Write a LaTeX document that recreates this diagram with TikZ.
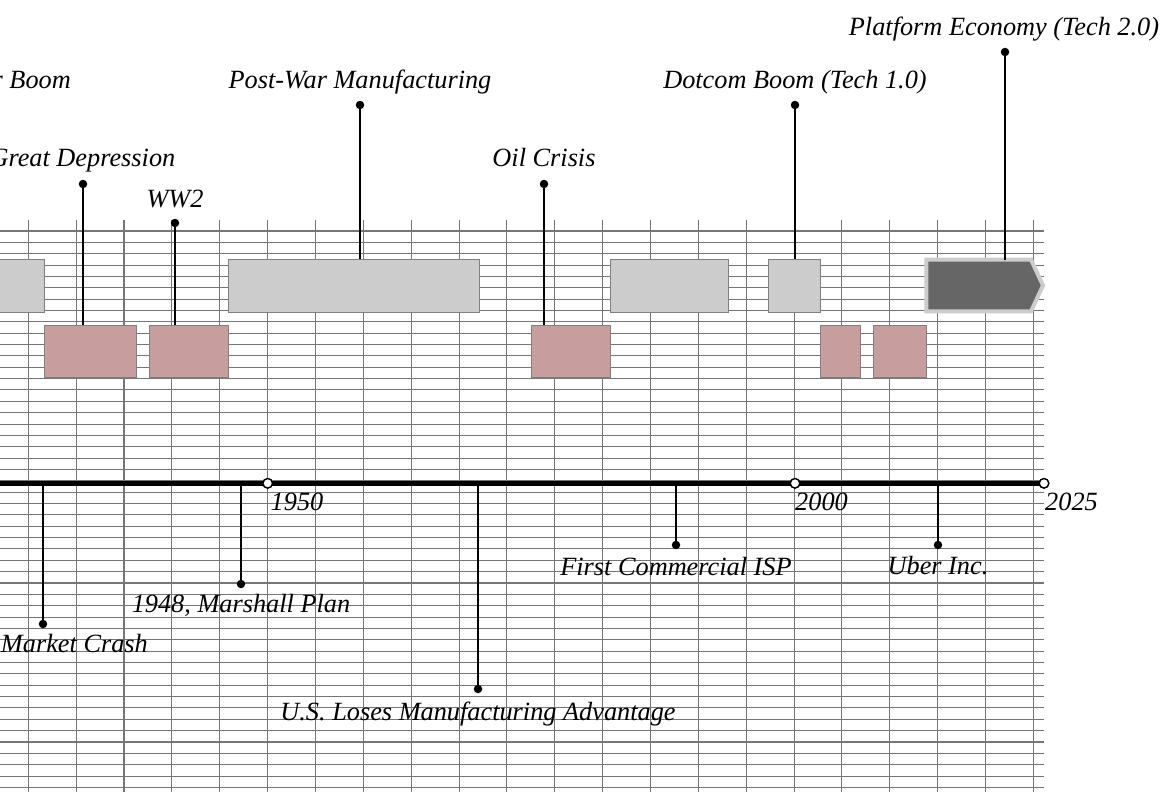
\documentclass[tikz,border=0pt]{standalone}
\usepackage{fontspec}
\setmainfont{Liberation Serif}
\usetikzlibrary{calc}
\definecolor{gridc}{RGB}{118,118,118}
\definecolor{boxgray}{RGB}{204,204,204}
\definecolor{boxpink}{RGB}{200,157,158}
\definecolor{boxedge}{RGB}{128,128,128}
\definecolor{darkfill}{RGB}{102,102,102}
\definecolor{darkedge}{RGB}{204,204,204}
\begin{document}
\begin{tikzpicture}[x=1pt,y=-1pt,
  gridline/.style={draw=gridc, line width=1.05pt},
  evbox/.style={draw=boxedge, line width=1pt, inner sep=0pt, anchor=north west, minimum height=52.4pt},
  graybox/.style={evbox, fill=boxgray},
  pinkbox/.style={evbox, fill=boxpink},
  darkarrow/.style={draw=darkedge, fill=darkfill, line width=4pt, line join=miter},
  stem/.style={draw=black, line width=1.2pt},
  evdot/.style={circle, fill=black, inner sep=0pt, minimum size=8.5pt},
  yeardot/.style={circle, draw=black, fill=white, line width=1.3pt, inner sep=0pt, minimum size=9.5pt},
  tline/.style={draw=black, line width=4.5pt},
  lbl/.style={font=\itshape\fontsize{26.3}{30}\selectfont, inner sep=0pt, text=black},
]
\useasboundingbox (0,0) rectangle (1167,792);
% grid
\foreach \i in {0,...,21} \draw[gridline] ({28.3+47.86*\i},220) -- ({28.3+47.86*\i},792);
\foreach \j in {0,...,49} \draw[gridline] (0,{231+11.355*\j}) -- (1044,{231+11.355*\j});

% period boxes
\node[graybox, minimum width=53.7pt] (bboom) at (-10,259.3) {};
\node[pinkbox, minimum width=92.3pt] (bgd) at (43.7,325) {};
\node[pinkbox, minimum width=79pt] (bww2) at (149.3,325) {};
\node[graybox, minimum width=251pt] (bpw) at (228.3,259.3) {};
\node[pinkbox, minimum width=79pt] (boil) at (531,325) {};
\node[graybox, minimum width=118pt] (bgap) at (610,259.3) {};
\node[graybox, minimum width=52pt] (bdot) at (768,259.3) {};
\node[pinkbox, minimum width=40pt] (bp1) at (820,325) {};
\node[pinkbox, minimum width=53pt] (bp2) at (873,325) {};
\draw[darkarrow] (926.3,259.7) -- (1031,259.7) -- (1043,285.5) -- (1031,311.3) -- (926.3,311.3) -- cycle;
\coordinate (bpe) at (1005,259.7);

% top events
\node[evdot] (dgd) at (83,184) {};
\node[evdot] (dww2) at (175,223) {};
\node[evdot] (dpw) at (360,105) {};
\node[evdot] (doil) at (544,184) {};
\node[evdot] (ddot) at (795,105) {};
\node[evdot] (dpe) at (1005,52) {};
\draw[stem] (dgd) -- (dgd |- bgd.north);
\draw[stem] (dww2) -- (dww2 |- bww2.north);
\draw[stem] (dpw) -- (dpw |- bpw.north);
\draw[stem] (doil) -- (doil |- boil.north);
\draw[stem] (ddot) -- (ddot |- bdot.north);
\draw[stem] (dpe) -- (bpe);

\node[lbl, anchor=base east] (lboom) at (71,88.5) {Consumer Boom};
\node[lbl, anchor=base east] (lgd) at (175.5,166.5) {Great Depression};
\node[lbl, anchor=base] (lww2) at (175,207.5) {WW2};
\node[lbl, anchor=base] (lpw) at (360,88.5) {Post-War Manufacturing};
\node[lbl, anchor=base] (loil) at (544,166.5) {Oil Crisis};
\node[lbl, anchor=base] (ldot) at (795,88.5) {Dotcom Boom (Tech 1.0)};
\node[lbl, anchor=base] (lpe) at (1004,35.5) {Platform Economy (Tech 2.0)};

% timeline
\coordinate (tstart) at (-10,483.3);
\node[yeardot] (y1950) at (267.7,483.3) {};
\node[yeardot] (y2000) at (795,483.3) {};
\node[yeardot] (y2025) at (1044,483.3) {};

% bottom events
\node[evdot] (dsmc) at (43,624) {};
\node[evdot] (dmp) at (241,584) {};
\node[evdot] (dus) at (478,689) {};
\node[evdot] (disp) at (676,545) {};
\node[evdot] (duber) at (938,545) {};
\draw[stem] (dsmc |- tstart) -- (dsmc);
\draw[stem] (dmp |- tstart) -- (dmp);
\draw[stem] (dus |- tstart) -- (dus);
\draw[stem] (disp |- tstart) -- (disp);
\draw[stem] (duber |- tstart) -- (duber);

\draw[tline] (tstart) -- (y2025.center);
\node[yeardot] at (y1950) {};
\node[yeardot] at (y2000) {};
\node[yeardot] at (y2025) {};

\node[lbl, anchor=base west] (t1950) at (270.5,510.5) {1950};
\node[lbl, anchor=base west] (t2000) at (795,510.5) {2000};
\node[lbl, anchor=base west] (t2025) at (1045,510.5) {2025};

\node[lbl, anchor=base east] (lsmc) at (148,652) {Stock Market Crash};
\node[lbl, anchor=base] (lmp) at (241,612) {1948, Marshall Plan};
\node[lbl, anchor=base] (lus) at (478,720.5) {U.S. Loses Manufacturing Advantage};
\node[lbl, anchor=base] (lisp) at (676,575.5) {First Commercial ISP};
\node[lbl, anchor=base] (luber) at (938,574.5) {Uber Inc.};
\end{tikzpicture}
\end{document}
